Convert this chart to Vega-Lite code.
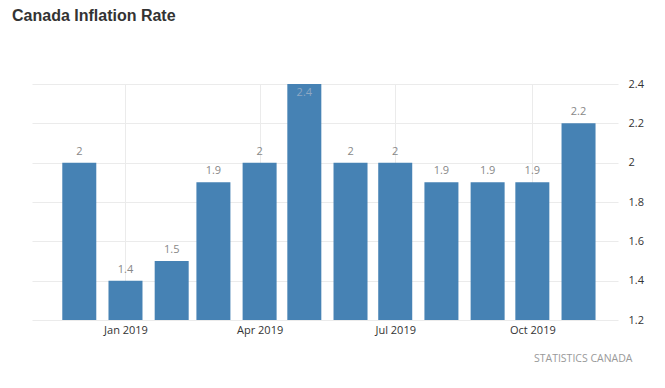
{
  "$schema": "https://vega.github.io/schema/vega-lite/v6.json",
  "width": 586,
  "height": 236,
  "autosize": {"type": "none"},
  "padding": {"left": 32, "top": 84, "right": 47, "bottom": 68},
  "background": "#ffffff",
  "title": {
    "text": "Canada Inflation Rate",
    "anchor": "start",
    "frame": "group",
    "dx": -20,
    "offset": 54,
    "font": "Liberation Sans",
    "fontSize": 16,
    "fontWeight": "bold",
    "color": "#333333"
  },
  "data": {
    "values": [
      {"month": "2018-12-01", "rate": 2.0},
      {"month": "2019-01-01", "rate": 1.4},
      {"month": "2019-02-01", "rate": 1.5},
      {"month": "2019-03-01", "rate": 1.9},
      {"month": "2019-04-01", "rate": 2.0},
      {"month": "2019-05-01", "rate": 2.4},
      {"month": "2019-06-01", "rate": 2.0},
      {"month": "2019-07-01", "rate": 2.0},
      {"month": "2019-08-01", "rate": 1.9},
      {"month": "2019-09-01", "rate": 1.9},
      {"month": "2019-10-01", "rate": 1.9},
      {"month": "2019-11-01", "rate": 2.2}
    ]
  },
  "encoding": {
    "x": {
      "field": "month",
      "type": "temporal",
      "scale": {
        "type": "utc",
        "nice": false,
        "domain": [
          {"year": 2018, "month": 11, "date": 2, "hours": 15, "utc": true},
          {"year": 2019, "month": 11, "date": 24, "hours": 3, "utc": true}
        ]
      },
      "axis": {
        "values": [
          {"year": 2019, "month": 1, "date": 1, "utc": true},
          {"year": 2019, "month": 4, "date": 1, "utc": true},
          {"year": 2019, "month": 7, "date": 1, "utc": true},
          {"year": 2019, "month": 10, "date": 1, "utc": true}
        ],
        "labelExpr": "utcFormat(datum.value, '%b %Y')",
        "domain": false,
        "ticks": false,
        "grid": true,
        "gridColor": "#ebebeb",
        "labelFont": "Open Sans",
        "labelFontSize": 11,
        "labelColor": "#333333",
        "labelPadding": 4,
        "title": "STATISTICS CANADA",
        "titleFont": "Open Sans",
        "titleFontSize": 10.5,
        "titleFontWeight": "normal",
        "titleColor": "#999999",
        "titleAlign": "right",
        "titleAnchor": "end",
        "titleBaseline": "middle",
        "titleX": 600,
        "titleY": 38
      }
    },
    "y": {
      "field": "rate",
      "type": "quantitative",
      "scale": {"domain": [1.2, 2.4], "zero": false, "nice": false},
      "axis": {
        "orient": "right",
        "values": [1.2, 1.4, 1.6, 1.8, 2.0, 2.2, 2.4],
        "format": "~g",
        "domain": false,
        "ticks": false,
        "grid": true,
        "gridColor": "#ebebeb",
        "labelFont": "Open Sans",
        "labelFontSize": 11,
        "labelColor": "#333333",
        "labelPadding": 10,
        "title": null
      }
    }
  },
  "layer": [
    {"mark": {"type": "bar", "size": 34, "color": "#4682b4", "clip": true}},
    {
      "transform": [{"filter": "datum.rate < 2.4"}],
      "mark": {"type": "text", "baseline": "bottom", "dy": -6, "font": "Open Sans", "fontSize": 11, "color": "#888888"},
      "encoding": {"text": {"field": "rate", "type": "quantitative", "format": "~g"}}
    },
    {
      "transform": [{"filter": "datum.rate >= 2.4"}],
      "mark": {"type": "text", "baseline": "top", "dy": 3, "font": "Open Sans", "fontSize": 11, "color": "#8ea8c3"},
      "encoding": {"text": {"field": "rate", "type": "quantitative", "format": "~g"}}
    }
  ],
  "config": {"view": {"stroke": null}}
}
